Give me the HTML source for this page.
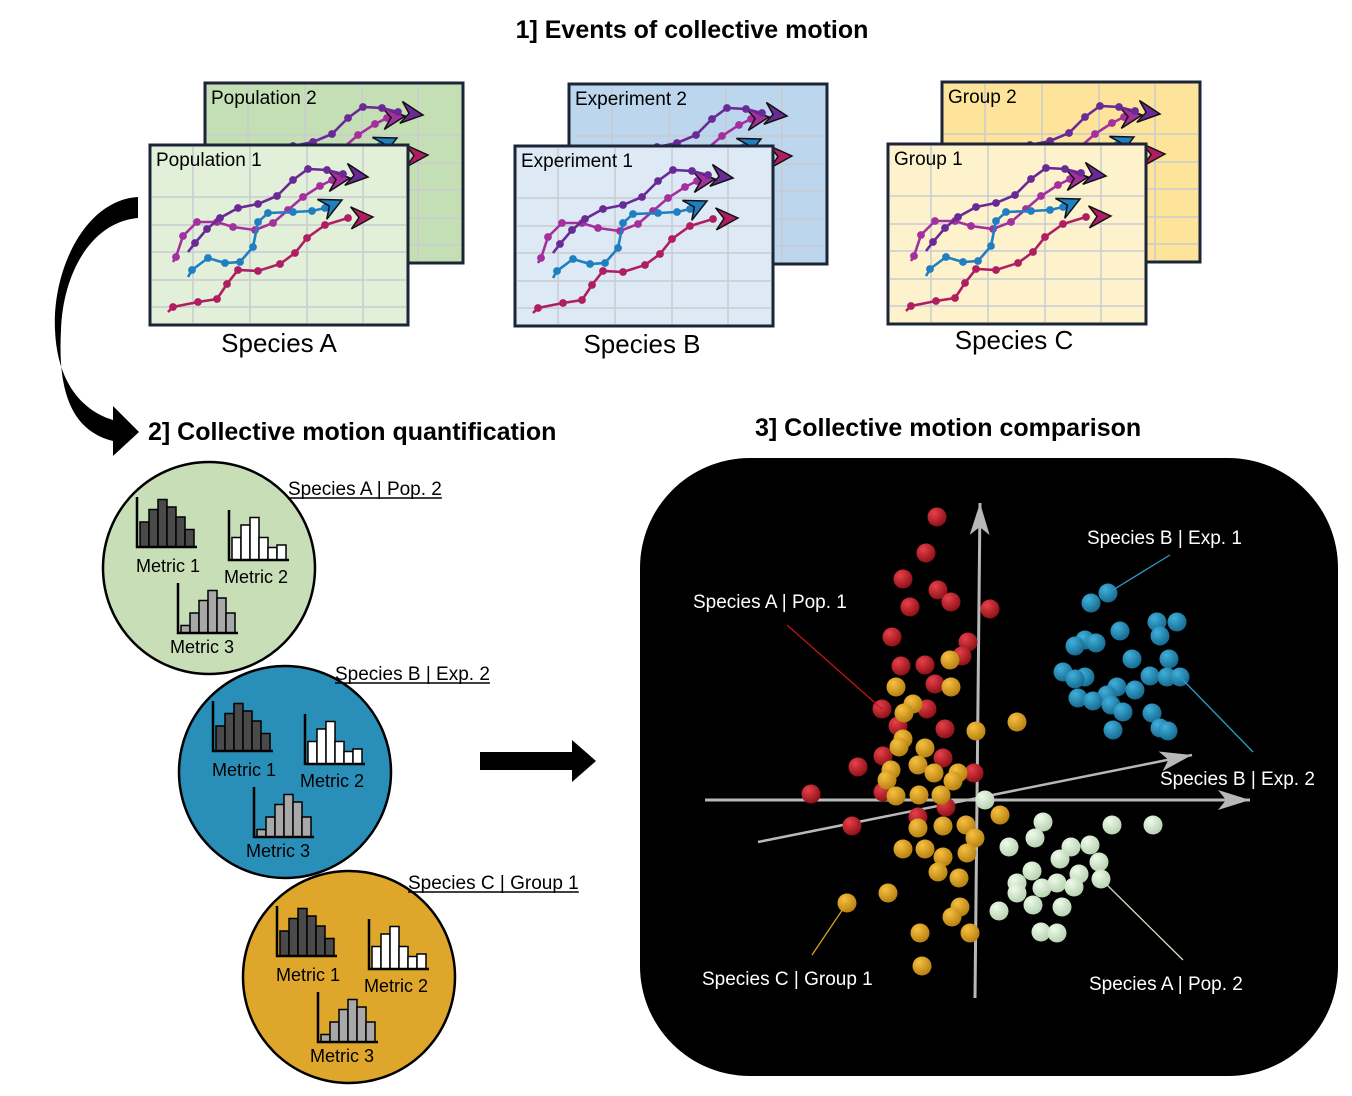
<!DOCTYPE html>
<html><head><meta charset="utf-8"><style>
html,body{margin:0;padding:0;background:#fff;}
svg{display:block;font-family:"Liberation Sans",sans-serif;}
</style></head><body>
<svg id="root" width="1352" height="1096" viewBox="0 0 1352 1096">
<defs>
 <radialGradient id="gRed" cx="0.35" cy="0.3" r="0.75"><stop offset="0" stop-color="#e8404a"/><stop offset="1" stop-color="#8a0f15"/></radialGradient>
 <radialGradient id="gYel" cx="0.35" cy="0.3" r="0.75"><stop offset="0" stop-color="#f7c040"/><stop offset="1" stop-color="#b47e10"/></radialGradient>
 <radialGradient id="gBlu" cx="0.35" cy="0.3" r="0.75"><stop offset="0" stop-color="#3fb0dc"/><stop offset="1" stop-color="#15678c"/></radialGradient>
 <radialGradient id="gGrn" cx="0.35" cy="0.3" r="0.75"><stop offset="0" stop-color="#eefbe8"/><stop offset="1" stop-color="#b5d0b0"/></radialGradient>
</defs>
<text x="692" y="38" text-anchor="middle" font-size="25" font-weight="bold">1] Events of collective motion</text>
<text x="148" y="440" font-size="25" font-weight="bold">2] Collective motion quantification</text>
<text x="755" y="436" font-size="25" font-weight="bold">3] Collective motion comparison</text>
<g id="panels"></g>
<g id="circles"></g>
<path d="M138,197 C85,200 52,270 55,330 C57,380 80,410 113,420 L113,406 L139,432 L113,456 L113,441 C68,430 58,385 61,330 C63,272 92,222 138,218 Z" fill="#000"/>
<polygon points="480,752 572,752 572,740 596,761 572,782 572,770 480,770" fill="#000"/>
<rect x="640" y="458" width="698" height="618" rx="110" fill="#000"/>
<g id="scatter"></g>
</svg>
<script>
const NS="http://www.w3.org/2000/svg";
function mk(tag,attrs,parent){const e=document.createElementNS(NS,tag);for(const k in attrs)e.setAttribute(k,attrs[k]);parent.appendChild(e);return e;}

const trajDark=[[38,107],[45,98],[57,84],[70,73],[88,63],[108,59],[127,51],[143,35],[158,24],[177,25],[193,29]];
const trajMag=[[23,117],[26,112],[33,91],[47,77],[67,77],[83,82],[105,85],[123,78],[138,65],[153,52],[170,41],[182,35]];
const trajBlue=[[38,132],[42,125],[58,113],[75,118],[90,117],[103,102],[108,77],[118,68],[143,67],[162,66],[175,63]];
const trajRed=[[18,167],[23,162],[48,157],[67,154],[77,139],[88,125],[108,126],[130,119],[145,108],[157,93],[175,80],[198,73]];
const trajs=[[trajMag,"#a3309c",[200,33]],[trajDark,"#6a2a96",[218,32]],[trajBlue,"#1f7fc0",[192,55]],[trajRed,"#b01e62",[223,72]]];

const panelDefs=[
 {x:150,y:145,bx:205,by:83,front:"#e2efd9",back:"#c5dfb4",f:"Population 1",b:"Population 2",sp:"Species A",sx:279,sy:352,key:"a"},
 {x:515,y:146,bx:569,by:84,front:"#dde9f5",back:"#bcd6ee",f:"Experiment 1",b:"Experiment 2",sp:"Species B",sx:642,sy:353,key:"b"},
 {x:888,y:144,bx:942,by:82,front:"#fdf2cc",back:"#fde49a",f:"Group 1",b:"Group 2",sp:"Species C",sx:1014,sy:349,key:"c"}];
const W=258,H=180;
const gp=document.getElementById("panels");
function drawPanel(x,y,fill,label,g){
 mk("rect",{x:x,y:y,width:W,height:H,fill:fill,stroke:"#1c2538","stroke-width":3},g);
 [43,100,157,213].forEach(v=>mk("line",{x1:x+v,y1:y+2,x2:x+v,y2:y+H-2,stroke:"#c8ccd0","stroke-width":1.5},g));
 [52,80,107,135,162].forEach(v=>mk("line",{x1:x+2,y1:y+v,x2:x+W-2,y2:y+v,stroke:"#c8ccd0","stroke-width":1.5},g));
 const cp=mk("clipPath",{id:"cp"+x},g);mk("rect",{x:x,y:y,width:W+30,height:H},cp);
 const tg=mk("g",{"clip-path":"url(#cp"+x+")"},g);
 trajs.forEach(([pts,col,tip])=>{
  const tr=mk("g",{},tg);
  
  
  mk("polyline",{points:pts.map(p=>(x+p[0])+","+(y+p[1])).join(" "),fill:"none",stroke:col,"stroke-width":2.6},tr);
  pts.forEach((p,i)=>{if(i>0)mk("circle",{cx:x+p[0],cy:y+p[1],r:3.9,fill:col},tr);});
  const l=pts[pts.length-1],tx=x+tip[0],ty=y+tip[1];
  const a=Math.atan2(ty-(y+l[1]),tx-(x+l[0]));
  const c=Math.cos(a),s=Math.sin(a);
  const P=(dx,dy)=>(tx+dx*c-dy*s)+","+(ty+dx*s+dy*c);
  mk("polygon",{points:[P(0,0),P(-22,-11),P(-14,0),P(-22,11)].join(" "),fill:col,stroke:"#111","stroke-width":1.5},tr);
 });
 const t=mk("text",{x:x+6,y:y+21,"font-size":19},g);t.textContent=label;
 
 
}
panelDefs.forEach(p=>{
 const g=mk("g",{},gp);
 
 
 drawPanel(p.bx,p.by,p.back,p.b,g);
 drawPanel(p.x,p.y,p.front,p.f,g);
 const t=mk("text",{x:p.sx,y:p.sy,"font-size":26,"text-anchor":"middle"},g);t.textContent=p.sp;
 
 
});

const metric1=[0.5,0.75,0.95,0.8,0.6,0.35];
const metric2=[0.45,0.7,0.85,0.45,0.25,0.3];
const metric3=[0.15,0.4,0.65,0.85,0.7,0.4];
const circleDefs=[
 {cx:209,cy:568,fill:"#c8deb6",label:"Species A | Pop. 2",lx:288,ly:495},
 {cx:285,cy:772,fill:"#2a8fb8",label:"Species B | Exp. 2",lx:335,ly:680},
 {cx:349,cy:977,fill:"#dea62a",label:"Species C | Group 1",lx:408,ly:889}];
const gc=document.getElementById("circles");
function hist(x,y,vals,fill,g,name){
 const hg=mk("g",{},g);
 
 
 const bw=9,hh=50;
 vals.forEach((v,i)=>mk("rect",{x:x+3+i*bw,y:y+hh-v*hh,width:bw,height:v*hh,fill:fill,stroke:"#000","stroke-width":1.5},hg));
 mk("polyline",{points:`${x},${y} ${x},${y+hh} ${x+60},${y+hh}`,fill:"none",stroke:"#000","stroke-width":2.5},hg);
}
circleDefs.forEach((c,i)=>{
 const g=mk("g",{},gc);
 
 
 mk("circle",{cx:c.cx,cy:c.cy,r:106,fill:c.fill,stroke:"#000","stroke-width":2.5},g);
 hist(c.cx-72,c.cy-71,metric1,"#4a4a4a",g,"histogram-metric-1");
 hist(c.cx+20,c.cy-58,metric2,"#fff",g,"histogram-metric-2");
 hist(c.cx-31,c.cy+15,metric3,"#a8a8a8",g,"histogram-metric-3");
 [["Metric 1",c.cx-73,c.cy+4],["Metric 2",c.cx+15,c.cy+15],["Metric 3",c.cx-39,c.cy+85]].forEach(m=>{
  const t=mk("text",{x:m[1],y:m[2],"font-size":18},g);t.textContent=m[0];
  
  
 });
 const t=mk("text",{x:c.lx,y:c.ly,"font-size":19},g);t.textContent=c.label;
 
 
 const len=t.getComputedTextLength();
 mk("line",{x1:c.lx,y1:c.ly+3,x2:c.lx+len,y2:c.ly+3,stroke:"#000","stroke-width":1.5},g);
});

const redPts=[[937,517],[926,553],[903,579],[938,590],[951,602],[910,607],[990,609],[892,637],[968,642],[962,656],[901,666],[925,665],[935,684],[882,709],[927,709],[898,726],[945,729],[883,756],[943,758],[858,767],[974,773],[811,794],[883,792],[946,807],[918,817],[852,826]];
const yelPts=[[950,660],[896,687],[951,687],[913,704],[904,713],[976,731],[1017,722],[903,739],[899,747],[925,748],[918,765],[891,770],[934,773],[958,773],[953,781],[887,780],[896,796],[919,795],[941,795],[918,828],[943,826],[966,825],[1000,815],[975,838],[903,849],[925,849],[943,857],[967,853],[938,872],[959,878],[888,893],[847,903],[960,907],[952,917],[920,933],[970,933],[922,966]];
const bluPts=[[1108,593],[1091,603],[1120,631],[1157,622],[1177,622],[1160,636],[1085,640],[1096,643],[1075,646],[1132,659],[1169,659],[1063,672],[1085,677],[1075,679],[1150,676],[1167,677],[1180,677],[1117,687],[1135,690],[1107,695],[1078,698],[1093,701],[1111,705],[1123,712],[1152,713],[1160,728],[1168,731],[1113,730]];
const grnPts=[[985,800],[1043,822],[1112,825],[1153,825],[1035,838],[1009,847],[1090,845],[1071,847],[1060,859],[1099,862],[1032,871],[1079,874],[1101,879],[1017,883],[1042,888],[1057,883],[1074,887],[1017,893],[1033,905],[1062,907],[999,911],[1041,932],[1057,933]];

const gs=document.getElementById("scatter");
function axis(x1,y1,x2,y2,w,name){
 const g=mk("g",{},gs);
 
 
 mk("line",{x1:x1,y1:y1,x2:x2,y2:y2,stroke:"#b8b8b8","stroke-width":w},g);
 const a=Math.atan2(y2-y1,x2-x1),c=Math.cos(a),s=Math.sin(a);
 const P=(dx,dy)=>(x2+dx*c-dy*s)+","+(y2+dx*s+dy*c);
 mk("polygon",{points:[P(0,0),P(-32,-10),P(-24,0),P(-32,10)].join(" "),fill:"#b8b8b8"},g);
}
function leader(x1,y1,x2,y2,col,label,lx,ly){
 const l=mk("line",{x1:x1,y1:y1,x2:x2,y2:y2,stroke:col,"stroke-width":1.3},gs);
 
 
 const t=mk("text",{x:lx,y:ly,"font-size":19,fill:"#fff"},gs);t.textContent=label;
 
 
}
axis(975,998,980,503,3,"y-axis");
axis(705,800,1250,800,3,"x-axis");
axis(758,842,1192,755,2.5,"z-axis");
function pts(arr,grad,name){
 const g=mk("g",{},gs);
 
 
 arr.forEach(p=>{
  const c=mk("circle",{cx:p[0],cy:p[1],r:9.5,fill:"url(#"+grad+")"},g);
  
  
 });
}
pts(redPts,"gRed","series-species-a-pop-1");
pts(yelPts,"gYel","series-species-c-group-1");
pts(bluPts,"gBlu","series-species-b");
pts(grnPts,"gGrn","series-species-a-pop-2");
leader(1170,555,1108,593,"#2a9ac8","Species B | Exp. 1",1087,544);
leader(787,625,882,709,"#c0141c","Species A | Pop. 1",693,608);
leader(1180,677,1253,752,"#2a9ac8","Species B | Exp. 2",1160,785);
leader(812,955,847,903,"#d8a020","Species C | Group 1",702,985);
leader(1101,879,1183,960,"#cfe0c8","Species A | Pop. 2",1089,990);
</script>
</body></html>
